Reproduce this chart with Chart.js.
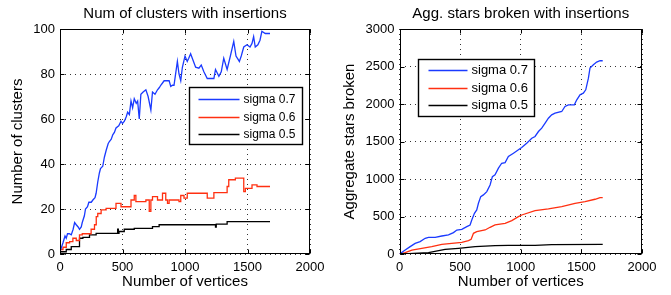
<!DOCTYPE html>
<html><head><meta charset="utf-8">
<script src="https://cdn.jsdelivr.net/npm/chart.js@4.4.0/dist/chart.umd.min.js"></script>
<style>
html,body{margin:0;padding:0;background:#fff;width:671px;height:295px;overflow:hidden}
#c1{position:absolute;left:0;top:0}
#c2{position:absolute;left:335px;top:0}
</style></head><body>
<canvas id="c1" width="335" height="295"></canvas>
<canvas id="c2" width="336" height="295"></canvas>
<script>
// ---------- data ----------
const seriesLabels = ['sigma 0.7', 'sigma 0.6', 'sigma 0.5'];
const xTicks = [0, 500, 1000, 1500, 2000];
const clustersYTicks = [0, 20, 40, 60, 80, 100];
const starsYTicks = [0, 500, 1000, 1500, 2000, 2500, 3000];

// Left: number of clusters
const clustersS07X = [0,12,24,40,50,60,75,90,105,117,130,145,156,170,178,195,204,220,231,250,263,280,289,302,315,324,342,355,369,385,395,410,422,435,448,470,488,500,515,530,541,555,568,581,594,610,621,634,647,665,687,705,727,740,760,780,795,806,820,833,850,873,886,900,912,939,952,966,979,1000,1018,1030,1045,1065,1085,1111,1130,1151,1178,1200,1231,1244,1271,1290,1310,1337,1363,1390,1408,1435,1450,1470,1496,1520,1536,1549,1562,1583,1600,1615,1642,1663,1680];
const clustersS07Y = [1,3,5,8,7,9,9,8.5,11,14,13,12,11,12,14,17,20,21,23,23,24,25,27,32,36,38,39,43,46,49,50,51,53,54,56,57,59,58,59,61,63,62,68,65,69,67,68,60,71,72,73,70,64,72,71,73,74,75,76,77,77,77,74.5,75,75,85.6,80,77,83,88,85.6,87,89,86,83,82.6,84,81,78,78,78,82,79,81,87,82,88,94.5,88,85.6,88,92,93,92,93.6,96.6,92,93,95,99,98,98,98];

const clustersS06X = [0,24,50,77,103,130,156,178,204,249,276,290,302,329,369,408,448,488,528,568,594,607,620,687,714,727,740,780,800,820,846,860,873,912,952,966,992,1018,1058,1178,1191,1231,1244,1337,1350,1403,1470,1483,1536,1576,1602,1680];
const clustersS06Y = [0,2,3,5,5.5,7,6,8.5,9,9,11,13,16.6,18,19.6,20.3,20.3,22.5,21,21,24,26,23.3,23.3,24,19,24,25.5,24,24,27,24,22.5,24,24,23.3,26,24.8,27,27,24.8,24.8,27.3,27.3,30,33,33.7,27.7,29.2,30.7,30,30];

const clustersS05X = [0,50,90,156,183,236,289,342,461,467,472,514,594,740,793,1005,1244,1250,1337,1589,1680];
const clustersS05Y = [0,1,2,3.3,7,7.4,8.5,9.2,9.2,11,9.2,10,11,11.4,12.2,13,13,12,13.3,14.4,14.4];

// Right: aggregate stars broken
const starsS07X = [0,47,88,129,170,212,239,294,349,404,445,473,514,555,582,596,618,637,651,670,692,720,747,766,788,816,843,871,898,940,981,1008,1049,1091,1118,1146,1173,1201,1228,1255,1283,1338,1365,1393,1442,1462,1489,1516,1536,1558,1571,1599,1626,1654,1676];
const starsS07Y = [0,53,98,142,165,209,222,222,240,254,285,320,329,365,387,454,543,587,676,765,788,832,921,1032,1055,1144,1210,1219,1300,1344,1389,1420,1478,1544,1567,1633,1678,1745,1811,1856,1878,1900,1967,1989,1989,2056,2123,2145,2189,2345,2479,2523,2559,2577,2577];

const starsS06X = [0,47,102,184,266,349,431,514,569,591,610,637,706,747,788,871,926,981,1008,1118,1228,1338,1448,1530,1613,1654,1676];
const starsS06Y = [0,18,53,76,98,129,142,156,178,196,276,298,320,356,387,409,445,498,520,578,601,632,676,699,730,752,752];

const starsS05X = [0,74,239,376,486,624,788,898,1118,1255,1676];
const starsS05Y = [0,4,18,62,76,98,111,116,116,125,129];

// ---------- helpers ----------
const FONT = "'Liberation Sans', Arial, Helvetica, sans-serif";
const COLORS = ['#1a3aff', '#ff3011', '#000000'];
const pts = (xs, ys) => xs.map((x, i) => ({x, y: ys[i]}));

const matlabBox = {
  id: 'matlabBox',
  afterDatasetsDraw(chart) {
    const {ctx, chartArea: a, scales: {x, y}} = chart;
    const L = Math.round(a.left) + 0.5, R = Math.round(a.right) - 0.5;
    const T = Math.round(a.top) + 0.5, B = Math.round(a.bottom) - 0.5;
    ctx.save();
    ctx.strokeStyle = '#000';
    ctx.lineWidth = 1;
    ctx.beginPath();
    const tl = 4;
    x.ticks.forEach(t => {
      const p = Math.round(x.getPixelForValue(t.value)) + 0.5;
      ctx.moveTo(p, B); ctx.lineTo(p, B - tl);
      ctx.moveTo(p, T); ctx.lineTo(p, T + tl);
    });
    y.ticks.forEach(t => {
      const p = Math.round(y.getPixelForValue(t.value)) + 0.5;
      ctx.moveTo(L, p); ctx.lineTo(L + tl, p);
      ctx.moveTo(R, p); ctx.lineTo(R - tl, p);
    });
    ctx.stroke();
    ctx.strokeRect(L, T, R - L, B - T);
    ctx.restore();
  },
  afterDraw(chart, args, o) {
    const {ctx, chartArea: a} = chart;
    const bx = Math.round(a.left + o.left) + 0.5, by = Math.round(a.top + o.top) + 0.5;
    ctx.save();
    ctx.fillStyle = '#fff';
    ctx.fillRect(bx, by, o.width, o.height);
    ctx.lineWidth = 1.4;
    ctx.strokeStyle = '#000';
    ctx.strokeRect(bx, by, o.width, o.height);
    ctx.font = o.fontSize + 'px ' + FONT;
    ctx.textBaseline = 'middle';
    ctx.textAlign = 'left';
    chart.data.datasets.forEach((ds, i) => {
      const yy = by + o.rows[i];
      ctx.strokeStyle = ds.borderColor;
      ctx.lineWidth = 1.3;
      ctx.beginPath();
      ctx.moveTo(bx + o.line0, yy); ctx.lineTo(bx + o.line1, yy);
      ctx.stroke();
      ctx.fillStyle = '#000';
      ctx.fillText(ds.label, bx + o.textX, yy);
    });
    ctx.restore();
  }
};

function makeChart(id, cfg) {
  const datasets = cfg.series.map((s, i) => ({
    label: seriesLabels[i],
    data: pts(s[0], s[1]),
    borderColor: COLORS[i],
    borderWidth: 1.3,
    pointRadius: 0,
    fill: false,
    tension: 0,
    stepped: s[2] || false
  }));
  return new Chart(document.getElementById(id), {
    type: 'line',
    data: {datasets},
    plugins: [matlabBox],
    options: {
      responsive: false,
      animation: false,
      events: [],
      layout: {padding: {left: 0, right: cfg.padRight, top: 0, bottom: 0}},
      plugins: {
        legend: {display: false},
        tooltip: {enabled: false},
        title: {
          display: true, text: cfg.title, color: '#000', fullSize: false,
          font: {family: FONT, size: 15, weight: 'normal', lineHeight: 1.2},
          padding: {top: 5, bottom: 6}
        },
        matlabBox: cfg.legend
      },
      scales: {
        x: {
          type: 'linear', min: 0, max: 2000,
          afterBuildTicks: s => { s.ticks = xTicks.map(v => ({value: v})); },
          afterFit: s => { s.height = 41; },
          ticks: {color: '#000', font: {family: FONT, size: 13}, padding: 6, maxRotation: 0, autoSkip: false,
                  callback: v => String(v)},
          grid: {color: '#333', lineWidth: 1, drawTicks: false},
          border: {display: false, dash: [1, 4]},
          title: {display: true, text: 'Number of vertices', color: '#000',
                  font: {family: FONT, size: 15}, padding: {top: 0, bottom: 4}}
        },
        y: {
          type: 'linear', min: 0, max: cfg.yMax,
          afterBuildTicks: s => { s.ticks = cfg.yTicks.map(v => ({value: v})); },
          afterFit: s => { s.width = cfg.yWidth; },
          ticks: {color: '#000', font: {family: FONT, size: 13}, padding: 5, autoSkip: false,
                  callback: v => String(v)},
          grid: {color: '#333', lineWidth: 1, drawTicks: false},
          border: {display: false, dash: [1, 4]},
          title: {display: true, text: cfg.yTitle, color: '#000',
                  font: {family: FONT, size: 15}, padding: {top: cfg.yTitlePad, bottom: 0}}
        }
      }
    }
  });
}

makeChart('c1', {
  title: 'Num of clusters with insertions',
  yTitle: 'Number of clusters',
  yMax: 100, yTicks: clustersYTicks, yWidth: 60, yTitlePad: 9, padRight: 25,
  series: [[clustersS07X, clustersS07Y], [clustersS06X, clustersS06Y, 'after'], [clustersS05X, clustersS05Y, 'after']],
  legend: {left: 129, top: 58, width: 113, height: 57, fontSize: 12, rows: [12, 30, 47], line0: 9, line1: 50, textX: 54}
});

makeChart('c2', {
  title: 'Agg. stars broken with insertions',
  yTitle: 'Aggregate stars broken',
  yMax: 3000, yTicks: starsYTicks, yWidth: 64.5, yTitlePad: 6, padRight: 29,
  series: [[starsS07X, starsS07Y], [starsS06X, starsS06Y], [starsS05X, starsS05Y]],
  legend: {left: 18.5, top: 30, width: 116, height: 57, fontSize: 13, rows: [11, 29, 46], line0: 10, line1: 49, textX: 53}
});
</script>
</body></html>
